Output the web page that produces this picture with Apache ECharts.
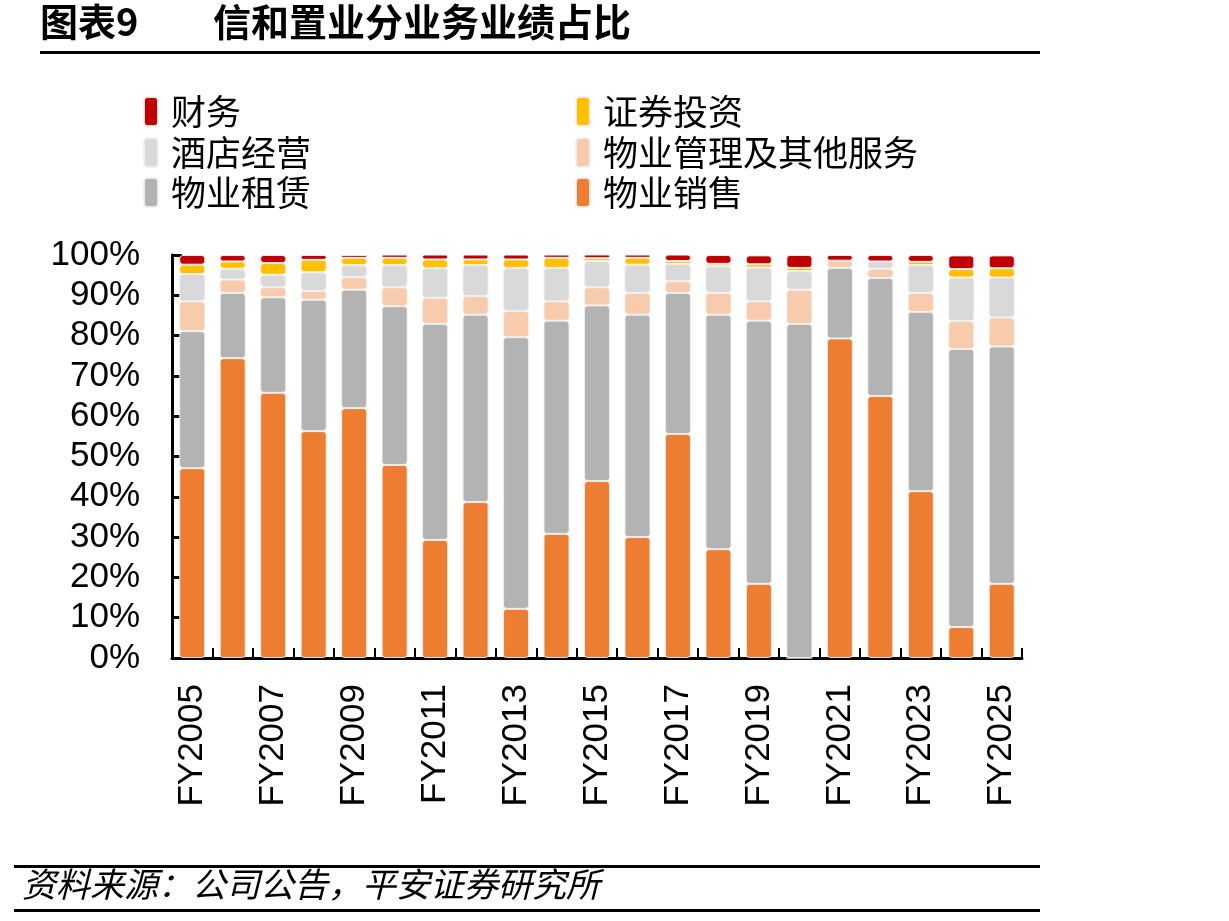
<!DOCTYPE html>
<html>
<head>
<meta charset="utf-8">
<script src="https://cdn.jsdelivr.net/npm/echarts@6/dist/echarts.min.js"></script>
<style>
html, body { margin: 0; padding: 0; background: #fff; }
#chart { width: 1229px; height: 921px; }
</style>
</head>
<body>
<div id="chart"></div>
<script>
// 年份
var years = ['FY2005','FY2006','FY2007','FY2008','FY2009','FY2010','FY2011','FY2012','FY2013','FY2014',
             'FY2015','FY2016','FY2017','FY2018','FY2019','FY2020','FY2021','FY2022','FY2023','FY2024','FY2025'];
// 各业务占比 (%)
var sales    = [47.1, 74.4, 65.8, 56.3, 62.0, 47.9, 29.3, 38.7, 12.2, 30.8, 43.9, 30.0, 55.6, 27.0, 18.4, 0.0, 79.3, 65.0, 41.4, 7.7, 18.4];
var rental   = [34.0, 16.2, 23.7, 32.6, 29.4, 39.4, 53.6, 46.5, 67.4, 52.9, 43.6, 55.2, 35.0, 58.2, 65.3, 82.9, 17.5, 29.3, 44.5, 69.0, 58.9];
var mgmt     = [7.4, 3.3, 2.5, 2.2, 3.1, 4.7, 6.5, 4.6, 6.5, 4.8, 4.5, 5.4, 2.9, 5.4, 4.8, 8.5, 1.8, 2.3, 4.7, 6.9, 7.2];
var hotel    = [6.8, 2.7, 3.1, 4.6, 3.0, 5.5, 7.3, 7.7, 10.7, 8.3, 6.5, 7.0, 4.3, 6.6, 8.4, 4.6, 0.0, 1.8, 6.9, 10.8, 9.9];
var security = [2.3, 1.8, 2.9, 3.1, 1.8, 1.8, 2.2, 1.4, 2.1, 2.5, 0.7, 1.7, 0.7, 0.6, 0.8, 0.8, 0.0, 0.0, 0.8, 2.1, 2.3];
var finance  = [2.4, 1.6, 2.0, 1.2, 0.7, 0.8, 1.2, 1.2, 1.2, 0.8, 1.0, 0.8, 1.6, 2.2, 2.2, 3.2, 1.4, 1.6, 1.7, 3.4, 3.2];
var yTicks = [0, 10, 20, 30, 40, 50, 60, 70, 80, 90, 100];

var cjk = '"Noto Sans CJK SC", sans-serif';
var num = '"Liberation Sans", Arial, sans-serif';

var colors = {
    '物业销售': '#ED7D31',
    '物业租赁': '#B3B3B3',
    '物业管理及其他服务': '#F8CBAD',
    '酒店经营': '#D9D9D9',
    '证券投资': '#FFC000',
    '财务': '#C00000'
};

function bar(name, data) {
    return {
        name: name,
        type: 'bar',
        stack: 'total',
        barWidth: 26,
        data: data,
        itemStyle: {
            color: colors[name],
            borderColor: 'rgba(240,240,240,0.9)',
            borderWidth: 1,
            borderRadius: 3
        }
    };
}

function legendItem(name, left, top) {
    return {
        left: left,
        top: top,
        data: [name],
        icon: 'roundRect',
        itemWidth: 14,
        itemHeight: 29,
        itemGap: 0,
        selectedMode: false,
        textStyle: { fontFamily: cjk, fontSize: 35, color: '#000', padding: [0, 0, 0, 8] }
    };
}

var myChart = echarts.init(document.getElementById('chart'));
var option = {
    animation: false,
    backgroundColor: '#fff',
    grid: { left: 172, right: 207, top: 255, bottom: 263, containLabel: false },
    legend: [
        legendItem('财务', 138, 89),
        legendItem('证券投资', 570, 89),
        legendItem('酒店经营', 138, 130),
        legendItem('物业管理及其他服务', 570, 130),
        legendItem('物业租赁', 138, 170),
        legendItem('物业销售', 570, 170)
    ],
    xAxis: {
        type: 'category',
        data: years,
        axisLine: { lineStyle: { color: '#000', width: 3 } },
        axisTick: { show: true, inside: true, length: 10, interval: 0, lineStyle: { color: '#000', width: 2 } },
        axisLabel: {
            interval: 1,
            rotate: 90,
            margin: 26,
            fontFamily: num,
            fontSize: 35,
            color: '#000'
        }
    },
    yAxis: {
        type: 'value',
        min: yTicks[0],
        max: yTicks[yTicks.length - 1],
        interval: 10,
        splitLine: { show: false },
        axisLine: { show: true, lineStyle: { color: '#000', width: 3 } },
        axisTick: { show: true, inside: true, length: 10, lineStyle: { color: '#000', width: 3 } },
        axisLabel: {
            formatter: '{value}%',
            margin: 32,
            fontFamily: num,
            fontSize: 35,
            color: '#000'
        }
    },
    series: [
        bar('物业销售', sales),
        bar('物业租赁', rental),
        bar('物业管理及其他服务', mgmt),
        bar('酒店经营', hotel),
        bar('证券投资', security),
        bar('财务', finance)
    ],
    graphic: [
        { type: 'text', left: 40, top: 3, style: { text: '图表9', font: 'bold 38px ' + cjk, fill: '#000' } },
        { type: 'text', left: 213, top: 3, style: { text: '信和置业分业务业绩占比', font: 'bold 38px ' + cjk, fill: '#000' } },
        { type: 'rect', shape: { x: 40, y: 51, width: 1000, height: 3 }, style: { fill: '#000' } },
        { type: 'rect', shape: { x: 14, y: 865, width: 1026, height: 3 }, style: { fill: '#000' } },
        { type: 'text', left: 22, top: 867, style: { text: '资料来源：公司公告，平安证券研究所', font: 'italic 34px ' + cjk, fill: '#000' } },
        { type: 'rect', shape: { x: 14, y: 909, width: 1026, height: 3 }, style: { fill: '#000' } }
    ]
};
myChart.setOption(option);
</script>
</body>
</html>
